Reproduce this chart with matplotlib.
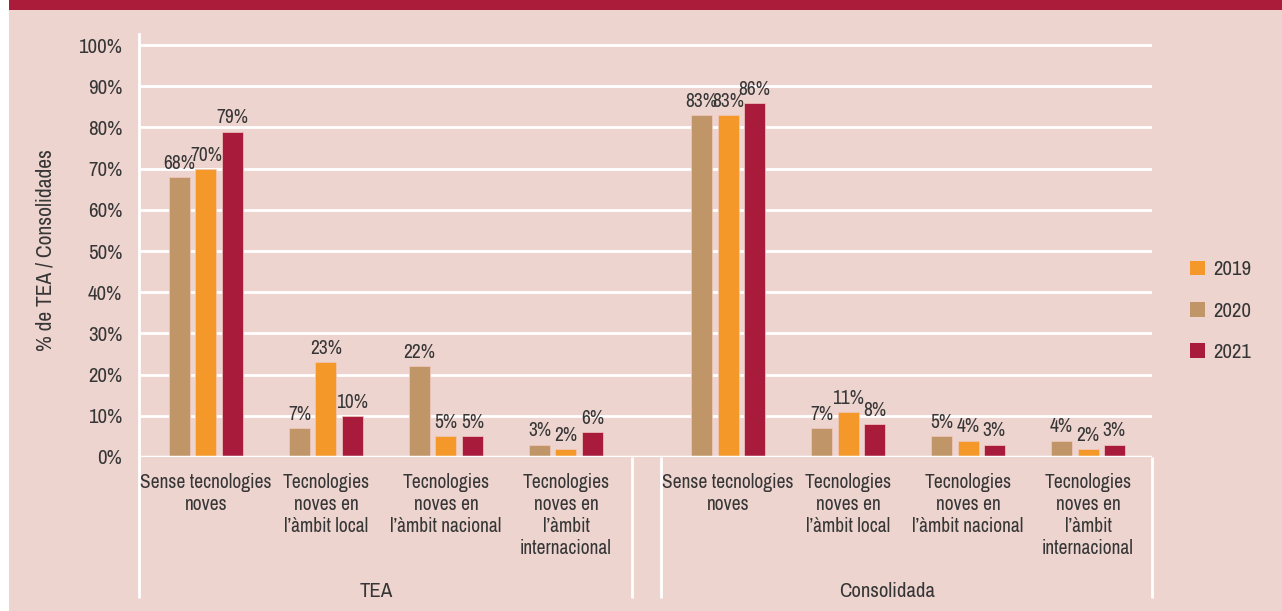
import numpy as np
import matplotlib
matplotlib.use("Agg")
import matplotlib.pyplot as plt
from matplotlib.patches import Patch, Rectangle
from matplotlib.transforms import blended_transform_factory

# condensed face; DejaVu Sans Condensed is the fallback
plt.rcParams['font.family'] = ['Archivo Narrow', 'DejaVu Sans']
plt.rcParams['font.stretch'] = 'condensed'

# -------------------------------
# Data
# -------------------------------
categories = ["Sense tecnologies\nnoves",
              "Tecnologies\nnoves en\nl\u2019\u00e0mbit local",
              "Tecnologies\nnoves en\nl\u2019\u00e0mbit nacional",
              "Tecnologies\nnoves en\nl\u2019\u00e0mbit\ninternacional"]
groups = ["TEA", "Consolidada"]

# TEA block then Consolidada block, 4 categories each
v2020 = [68, 7, 22, 3, 83, 7, 5, 4]
v2019 = [70, 23, 5, 2, 83, 11, 4, 2]
v2021 = [79, 10, 5, 6, 86, 8, 3, 3]

years = ["2019", "2020", "2021"]
yticks = np.arange(0, 101, 10)

# -------------------------------
# Style
# -------------------------------
BG = "#eed4cf"
BAND = "#aa1c3a"
TAN = "#c09668"
ORANGE = "#f5982a"
RED = "#a81b3a"
TXT = "#363636"
col = {"2019": ORANGE, "2020": TAN, "2021": RED}

fig = plt.figure(figsize=(12.82, 6.11), dpi=100)
fig.patch.set_facecolor("white")
W, H = 1282, 611
# pink panel and top band
fig.patches.append(Rectangle((9 / W, 0), 1 - 9 / W, 1, transform=fig.transFigure,
                             facecolor=BG, edgecolor="none", zorder=-10))
fig.patches.append(Rectangle((9 / W, 1 - 10 / H), 1 - 9 / W, 10 / H, transform=fig.transFigure,
                             facecolor=BAND, edgecolor="none", zorder=-9))

ax = fig.add_axes([139 / W, (H - 457) / H, 1013 / W, 423 / H])
ax.set_facecolor("none")

gap = 1.35
x = np.array([0, 1, 2, 3, 3 + gap, 4 + gap, 5 + gap, 6 + gap])
off = 0.22
bw = 0.175

series = [(v2020, TAN, -off), (v2019, ORANGE, 0), (v2021, RED, off)]
for vals, c, dx in series:
    bars = ax.bar(x + dx, vals, bw, color=c, edgecolor="#f2c9bf", linewidth=0.5, zorder=3)
    for b, v in zip(bars, vals):
        ax.annotate(f"{v}%", (b.get_x() + b.get_width() / 2, v), xytext=(0, 3),
                    textcoords="offset points", ha="center", va="bottom",
                    fontsize=14, color=TXT, zorder=4)

ax.set_xlim(-0.558, 7.883)
ax.set_ylim(0, 102.7)
ax.set_yticks(yticks)
ax.set_yticklabels([f"{t}%" for t in yticks], fontsize=15, color=TXT)
ax.tick_params(axis="y", length=0, pad=12)
ax.set_xticks([])
ax.grid(axis="y", color="white", linewidth=2, zorder=1)
for s in ["top", "right", "bottom"]:
    ax.spines[s].set_visible(False)
ax.spines["left"].set_color("white")
ax.spines["left"].set_linewidth(2)
ax.axhline(0, color="white", linewidth=2.5, zorder=5)

# category labels and group separators below the axis
tr = blended_transform_factory(ax.transData, ax.transAxes)
low = (457 - 598) / 423
for i, xi in enumerate(x):
    ax.text(xi, -0.038, categories[i % 4], transform=tr, ha="center", va="top",
            fontsize=14, color=TXT, linespacing=1.2)
for xs in [-0.558, 3.55, 3.79, 7.883]:
    ax.plot([xs, xs], [0, low], transform=tr, color="white", linewidth=2,
            clip_on=False, solid_capstyle="butt")
ax.text(1.417, -0.318, groups[0], transform=tr, ha="center", va="center",
        fontsize=15, color=TXT)
ax.text(5.675, -0.318, groups[1], transform=tr, ha="center", va="center",
        fontsize=15, color=TXT)

fig.text(46 / W, 1 - 250 / H, "% de TEA / Consolidades", rotation=90,
         ha="center", va="center", fontsize=15.5, color=TXT)

handles = [Patch(facecolor=col[y], edgecolor="none") for y in years]
fig.legend(handles, years, loc="center left", bbox_to_anchor=(1190 / W, 1 - 311 / H),
           frameon=False, fontsize=15, handlelength=0.72, handleheight=0.72,
           handletextpad=0.4, labelspacing=1.07, borderpad=0, borderaxespad=0,
           labelcolor=TXT)

fig.savefig("out.png", dpi=100, facecolor=fig.get_facecolor())
